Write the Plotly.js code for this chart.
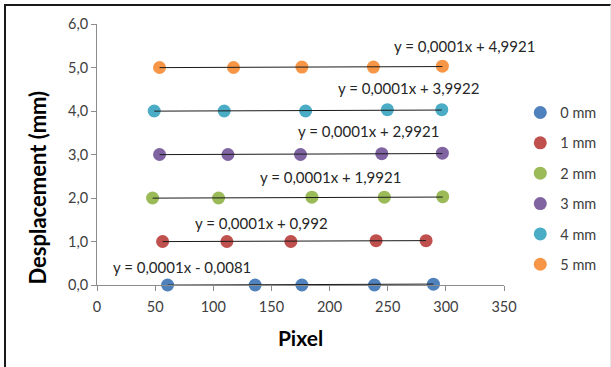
<!DOCTYPE html>
<html>
<head>
<meta charset="utf-8">
<script src="https://cdn.plot.ly/plotly-3.0.1.min.js"></script>
<style>
html,body{margin:0;padding:0;background:#fff;}
#wrap{position:relative;width:611px;height:367px;overflow:hidden;}
#chart{width:611px;height:367px;}
#frame{position:absolute;left:4px;top:4px;width:604px;height:400px;border-top:2px solid #1a1a1a;border-left:2px solid #1a1a1a;border-right:1px solid #e6e6e6;pointer-events:none;}
</style>
</head>
<body>
<div id="wrap"><div id="chart"></div><div id="frame"></div></div>
<script>
// Series names and colours
const seriesNames = ['0 mm', '1 mm', '2 mm', '3 mm', '4 mm', '5 mm'];
const seriesColors = ['#4F81BD', '#C0504D', '#9BBB59', '#8064A2', '#4BACC6', '#F79646'];

// Pixel positions (x) and displacement (y)
const x0mm = [60.7, 136.0, 176.2, 238.6, 289.3];
const y0mm = [0.00, 0.00, 0.00, 0.00, 0.02];
const x1mm = [56.4, 111.7, 166.7, 240.0, 283.0];
const y1mm = [1.00, 1.00, 1.00, 1.02, 1.02];
const x2mm = [47.8, 104.5, 184.8, 247.1, 297.3];
const y2mm = [2.00, 2.00, 2.02, 2.02, 2.03];
const x3mm = [53.8, 112.6, 175.0, 244.9, 297.0];
const y3mm = [3.00, 3.00, 3.00, 3.02, 3.03];
const x4mm = [49.2, 109.4, 179.4, 249.7, 296.5];
const y4mm = [4.00, 4.00, 4.00, 4.03, 4.03];
const x5mm = [53.8, 117.4, 176.2, 237.7, 297.0];
const y5mm = [5.00, 5.00, 5.01, 5.01, 5.03];

// Trendline equations (slope, intercept) and their labels
const slopes = [0.0001, 0.0001, 0.0001, 0.0001, 0.0001, 0.0001];
const intercepts = [-0.0081, 0.992, 1.9921, 2.9921, 3.9922, 4.9921];
const eqLabels = ['y = 0,0001x - 0,0081', 'y = 0,0001x + 0,992', 'y = 0,0001x + 1,9921',
                  'y = 0,0001x + 2,9921', 'y = 0,0001x + 3,9922', 'y = 0,0001x + 4,9921'];
const eqLabelX = [73.3, 141.2, 200.5, 233.1, 267.5, 315.6];
const eqLabelY = [0.41, 1.43, 2.49, 3.53, 4.53, 5.49];

const xTicks = [0, 50, 100, 150, 200, 250, 300, 350];
const yTicks = [0, 1, 2, 3, 4, 5, 6];
const xTitle = 'Pixel';
const yTitle = 'Desplacement (mm)';

const xs = [x0mm, x1mm, x2mm, x3mm, x4mm, x5mm];
const ys = [y0mm, y1mm, y2mm, y3mm, y4mm, y5mm];

const traces = [];
for (let i = 0; i < 6; i++) {
  traces.push({
    type: 'scatter', mode: 'markers', name: seriesNames[i],
    x: xs[i], y: ys[i], cliponaxis: false,
    legendgroup: 'g' + i,
    marker: {color: seriesColors[i], size: 13, line: {width: 0}},
    hoverinfo: 'x+y'
  });
}
for (let i = 0; i < 6; i++) {
  const xmin = Math.min(...xs[i]), xmax = Math.max(...xs[i]);
  traces.push({
    type: 'scatter', mode: 'lines', showlegend: false, cliponaxis: false,
    x: [xmin, xmax],
    y: [slopes[i] * xmin + intercepts[i], slopes[i] * xmax + intercepts[i]],
    line: {color: '#1a1a1a', width: 1}, hoverinfo: 'skip'
  });
}

const annotations = eqLabels.map((t, i) => ({
  x: eqLabelX[i], y: eqLabelY[i], xref: 'x', yref: 'y', text: t, showarrow: false,
  font: {family: 'Lato, sans-serif', size: 15, color: '#262626'}
}));
// y axis title, placed as in the reference (lower than the plot centre)
annotations.push({
  xref: 'paper', yref: 'paper', x: -0.147, y: 0.374, xanchor: 'center', yanchor: 'middle',
  text: '<b>' + yTitle + '</b>', textangle: -90, showarrow: false,
  font: {family: 'Lato, sans-serif', size: 22, color: '#000'}
});

const layout = {
  width: 611, height: 367,
  margin: {l: 97, r: 107, t: 24, b: 82, pad: 0, autoexpand: false},
  paper_bgcolor: '#fff', plot_bgcolor: '#fff',
  separators: ', ',
  showlegend: true,
  font: {family: 'Lato, sans-serif', color: '#404040'},
  xaxis: {
    range: [0, 350], tickvals: xTicks, tickformat: 'd',
    showgrid: false, zeroline: false, showline: true, linecolor: '#8c8c8c', linewidth: 1,
    ticks: 'outside', ticklen: 5, tickcolor: '#8c8c8c', ticklabelstandoff: 4,
    tickfont: {family: 'Lato, sans-serif', size: 14.5, color: '#404040'},
    title: {text: xTitle, font: {family: 'Lato, sans-serif', size: 21, color: '#000', weight: 'bold'}, standoff: 16}
  },
  yaxis: {
    range: [0, 6], tickvals: yTicks, tickformat: '.1f',
    showgrid: false, zeroline: false, showline: true, linecolor: '#8c8c8c', linewidth: 1,
    ticks: 'outside', ticklen: 5, tickcolor: '#8c8c8c',
    tickfont: {family: 'Lato, sans-serif', size: 14.5, color: '#404040'}
  },
  legend: {
    x: 1.04, xanchor: 'left', y: 0.722, yanchor: 'top',
    font: {family: 'Lato, sans-serif', size: 14.5, color: '#404040'},
    itemwidth: 30, tracegroupgap: 8.5, bgcolor: 'rgba(0,0,0,0)'
  },
  annotations: annotations
};

Plotly.newPlot('chart', traces, layout, {displayModeBar: false, staticPlot: true});
</script>
</body>
</html>
